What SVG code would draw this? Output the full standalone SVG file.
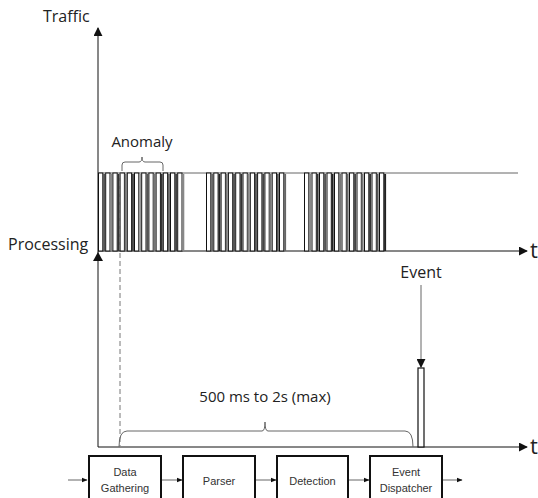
<svg xmlns="http://www.w3.org/2000/svg" width="538" height="498" viewBox="0 0 538 498">
<style>
.lbl{font-family:"Open Sans","Liberation Sans",sans-serif;font-size:16px;fill:#222}
.sm{font-size:15px}
.tl{font-family:"Open Sans","Liberation Sans",sans-serif;font-size:22px;fill:#222}
.bx{fill:#fff;stroke:#111;stroke-width:2}
.bt{font-family:"Liberation Sans",Arial,sans-serif;font-size:11px;fill:#333;text-anchor:middle}
.ax{stroke:#111;stroke-width:1;fill:none}
.gl{stroke:#666;stroke-width:1;fill:none}
</style>
<defs>
<marker id="ah" viewBox="0 0 10 10" refX="9" refY="5" markerWidth="9" markerHeight="9" markerUnits="userSpaceOnUse" orient="auto">
<path d="M0,0 L10,5 L0,10 z" fill="#111"/>
</marker>
<marker id="sh" viewBox="0 0 10 10" refX="9" refY="5" markerWidth="6" markerHeight="6" markerUnits="userSpaceOnUse" orient="auto">
<path d="M0,1 L10,5 L0,9 z" fill="#111"/>
</marker>
<g id="u">
<rect x="0.5" y="173" width="4.3" height="78" fill="#fff" stroke="#111" stroke-width="1"/>
<rect x="5.1" y="174" width="2" height="77" fill="currentColor"/>
</g>
</defs>

<g id="axes">
<line class="ax" x1="98" y1="447" x2="98" y2="28" marker-end="url(#ah)"/>
<line class="ax" x1="98" y1="251" x2="527" y2="251" marker-end="url(#ah)"/>
<line class="ax" x1="98" y1="447" x2="527" y2="447" marker-end="url(#ah)"/>
<line class="gl" x1="98" y1="173" x2="518" y2="173"/>
<path d="M93,261 L98,252 L103,261 z" fill="#111"/>
</g>

<g id="traffic-bars">
<use href="#u" x="98" color="#555"/>
<use href="#u" x="105.2" color="#888"/>
<use href="#u" x="112.4" color="#333"/>
<use href="#u" x="119.6" color="#777"/>
<use href="#u" x="126.8" color="#444"/>
<use href="#u" x="134" color="#999"/>
<use href="#u" x="141.2" color="#555"/>
<use href="#u" x="148.4" color="#777"/>
<use href="#u" x="155.6" color="#333"/>
<use href="#u" x="162.8" color="#666"/>
<use href="#u" x="170" color="#444"/>
<use href="#u" x="177.2" color="#888"/>

<use href="#u" x="206" color="#666"/>
<use href="#u" x="213.3" color="#222"/>
<use href="#u" x="220.6" color="#777"/>
<use href="#u" x="227.9" color="#555"/>
<use href="#u" x="235.2" color="#333"/>
<use href="#u" x="242.5" color="#888"/>
<use href="#u" x="249.8" color="#555"/>
<use href="#u" x="257.1" color="#444"/>
<use href="#u" x="264.4" color="#777"/>
<use href="#u" x="271.7" color="#555"/>
<use href="#u" x="279" color="#666"/>

<use href="#u" x="304" color="#888"/>
<use href="#u" x="311.5" color="#333"/>
<use href="#u" x="319" color="#555"/>
<use href="#u" x="326.5" color="#222"/>
<use href="#u" x="334" color="#777"/>
<use href="#u" x="341.5" color="#666"/>
<use href="#u" x="349" color="#444"/>
<use href="#u" x="356.5" color="#777"/>
<use href="#u" x="364" color="#333"/>
<use href="#u" x="371.5" color="#555"/>
<use href="#u" x="379" color="#222"/>
</g>

<g id="anomaly">
<path class="gl" d="M122,171 L122,165 Q122,162 125,162 L139,162 Q142,162 142,157 Q142,162 145,162 L160,162 Q163,162 163,165 L163,171"/>
<text class="lbl sm" x="142" y="147" text-anchor="middle">Anomaly</text>
</g>

<g id="dashed">
<line x1="120" y1="173" x2="120" y2="446" stroke="#777" stroke-width="1" stroke-dasharray="5,3"/>
</g>

<g id="latency">
<path class="gl" d="M119,447 Q119,431 127,431 L262,431 Q265,431 265,422 Q265,431 268,431 L405,431 Q413,431 413,447"/>
<text class="lbl sm" x="265" y="402" text-anchor="middle">500 ms to 2s (max)</text>
</g>

<g id="event">
<text class="lbl" x="421" y="278" text-anchor="middle">Event</text>
<line class="gl" x1="421" y1="285" x2="421" y2="367" marker-end="url(#ah)"/>
<rect x="418" y="368" width="6" height="79" fill="#fff" stroke="#111" stroke-width="1.2"/>
</g>

<g id="labels">
<text class="lbl" x="43" y="22">Traffic</text>
<text class="lbl" x="8" y="250">Processing</text>
<text class="tl" x="530" y="258">t</text>
<text class="tl" x="530" y="454">t</text>
</g>

<g id="connectors">
<line class="gl" x1="68" y1="480" x2="87" y2="480" marker-end="url(#sh)"/>
<line class="gl" x1="162" y1="480" x2="182" y2="480" marker-end="url(#sh)"/>
<line class="gl" x1="256" y1="480" x2="276" y2="480" marker-end="url(#sh)"/>
<line class="gl" x1="349" y1="480" x2="369" y2="480" marker-end="url(#sh)"/>
<line class="gl" x1="443" y1="480" x2="462" y2="480" marker-end="url(#sh)"/>
</g>

<g id="data-gathering">
<rect class="bx" x="89" y="456" width="72" height="50"/>
<text class="bt" x="125" y="476">Data</text>
<text class="bt" x="125" y="492">Gathering</text>
</g>
<g id="parser">
<rect class="bx" x="183" y="456" width="72" height="50"/>
<text class="bt" x="219" y="485">Parser</text>
</g>
<g id="detection">
<rect class="bx" x="277" y="456" width="71" height="50"/>
<text class="bt" x="312.5" y="485">Detection</text>
</g>
<g id="event-dispatcher">
<rect class="bx" x="370" y="456" width="72" height="50"/>
<text class="bt" x="406" y="476">Event</text>
<text class="bt" x="406" y="492">Dispatcher</text>
</g>
</svg>
